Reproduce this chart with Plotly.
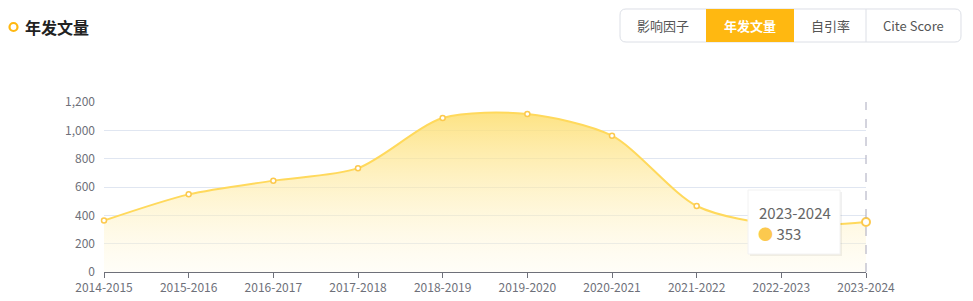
import plotly.graph_objects as go

categories = ["2014-2015", "2015-2016", "2016-2017", "2017-2018", "2018-2019",
              "2019-2020", "2020-2021", "2021-2022", "2022-2023", "2023-2024"]
counts = [363, 548, 645, 733, 1087, 1115, 962, 466, 330, 353]
y_ticks = [0, 200, 400, 600, 800, 1000, 1200]
buttons = ["影响因子", "年发文量", "自引率", "Cite Score"]
active_button = "年发文量"
hover_index = 9

W, H = 973, 301
L, R, T, B = 104, 107, 102, 29
PW, PH = W - L - R, H - T - B

def px(x):
    return (x - L) / PW

def py(y):
    return (H - B - y) / PH

FONT = "Noto Sans CJK SC, Noto Sans, sans-serif"
ORANGE = "#FFB811"

fig = go.Figure()
fig.add_trace(go.Scatter(
    x=categories, y=counts, mode="lines+markers",
    line=dict(color="#FFD95C", width=2, shape="spline", smoothing=0.8),
    marker=dict(symbol="circle", size=5, color="white",
                line=dict(color="#FCC94E", width=1.5)),
    fill="tozeroy",
    fillgradient=dict(type="vertical",
                      colorscale=[[0, "rgba(255,250,230,0.3)"], [1, "rgba(253,222,110,0.85)"]]),
    hoverinfo="skip", showlegend=False, cliponaxis=False,
))
# hovered point
fig.add_trace(go.Scatter(
    x=[categories[hover_index]], y=[counts[hover_index]], mode="markers",
    marker=dict(symbol="circle", size=8, color="white",
                line=dict(color="#FCC94E", width=2)),
    hoverinfo="skip", showlegend=False, cliponaxis=False,
))

shapes = []
annotations = []

# hover dashed line (at the hovered category, which is the right edge of the plot)
hx = hover_index / (len(categories) - 1)
shapes.append(dict(type="line", xref="paper", yref="paper", x0=hx, x1=hx,
                   y0=0, y1=1, line=dict(color="#A8A8BC", width=1, dash="dash"), layer="above"))

# tooltip
tx0, ty0, tx1, ty1 = 748, 190, 840, 254
shapes.append(dict(type="rect", xref="paper", yref="paper",
                   x0=px(tx0 + 2), x1=px(tx1 + 2), y0=py(ty1 + 2), y1=py(ty0 + 2),
                   fillcolor="rgba(0,0,0,0.06)", line=dict(width=0)))
shapes.append(dict(type="rect", xref="paper", yref="paper",
                   x0=px(tx0), x1=px(tx1), y0=py(ty1), y1=py(ty0),
                   fillcolor="white", line=dict(color="#F2F2F2", width=1)))
annotations.append(dict(xref="paper", yref="paper", x=px(757), y=py(212), xanchor="left",
                        yanchor="middle", showarrow=False, text=categories[hover_index],
                        font=dict(family=FONT, size=15, color="#666666")))
annotations.append(dict(xref="paper", yref="paper", x=px(756), y=py(233), xanchor="left",
                        yanchor="middle", showarrow=False,
                        text="<span style='color:#FCC94E'>●</span> " + str(counts[hover_index]),
                        font=dict(family=FONT, size=15, color="#666666")))

# title icon + title
shapes.append(dict(type="circle", xref="paper", yref="paper",
                   x0=px(9.5), x1=px(17.5), y0=py(31), y1=py(23),
                   line=dict(color=ORANGE, width=2.2), fillcolor="white"))
annotations.append(dict(xref="paper", yref="paper", x=px(23), y=py(27), xanchor="left",
                        yanchor="middle", showarrow=False, text="<b>年发文量</b>",
                        font=dict(family=FONT, size=16, color="#222222")))

# button group
bx = [620, 706, 794, 866, 961]
by0, by1 = 9, 42
r = 6
path = (f"M {bx[0]+r},{by0} L {bx[-1]-r},{by0} Q {bx[-1]},{by0} {bx[-1]},{by0+r} "
        f"L {bx[-1]},{by1-r} Q {bx[-1]},{by1} {bx[-1]-r},{by1} L {bx[0]+r},{by1} "
        f"Q {bx[0]},{by1} {bx[0]},{by1-r} L {bx[0]},{by0+r} Q {bx[0]},{by0} {bx[0]+r},{by0} Z")

def conv_path(p):
    tokens = p.split()
    out = []
    for t in tokens:
        if "," in t:
            a, b = t.split(",")
            out.append(f"{px(float(a)):.5f},{py(float(b)):.5f}")
        else:
            out.append(t)
    return " ".join(out)

shapes.append(dict(type="path", xref="paper", yref="paper", path=conv_path(path),
                   fillcolor="white", line=dict(color="#DCDFE6", width=1)))
for i, name in enumerate(buttons):
    a, b = bx[i], bx[i + 1]
    active = name == active_button
    if active:
        shapes.append(dict(type="rect", xref="paper", yref="paper",
                           x0=px(a), x1=px(b), y0=py(by1), y1=py(by0),
                           fillcolor=ORANGE, line=dict(width=0)))
    elif i > 0 and buttons[i - 1] != active_button:
        shapes.append(dict(type="line", xref="paper", yref="paper",
                           x0=px(a), x1=px(a), y0=py(by1), y1=py(by0),
                           line=dict(color="#DCDFE6", width=1)))
    annotations.append(dict(xref="paper", yref="paper", x=px((a + b) / 2), y=py((by0 + by1) / 2),
                            xanchor="center", yanchor="middle", showarrow=False,
                            text=f"<b>{name}</b>" if active else name,
                            font=dict(family=FONT, size=13,
                                      color="white" if active else "#555555")))

fig.update_layout(
    width=W, height=H,
    margin=dict(l=L, r=R, t=T, b=B, autoexpand=False),
    paper_bgcolor="white", plot_bgcolor="white",
    shapes=shapes, annotations=annotations,
    font=dict(family=FONT, size=12, color="#6E7079"),
    xaxis=dict(type="category", range=[0, len(categories) - 1], showgrid=False,
               showline=True, linecolor="#6E7079", linewidth=1,
               ticks="outside", ticklen=5, tickcolor="#6E7079", automargin=False,
               tickfont=dict(size=12, color="#6E7079"), zeroline=False, fixedrange=True),
    yaxis=dict(range=[0, 1200], tickvals=y_ticks, tickformat=",d", automargin=False,
               showgrid=True, gridcolor="#E0E6F1", gridwidth=1,
               showline=False, zeroline=False, ticks="", ticklabelstandoff=8,
               tickfont=dict(size=12, color="#6E7079")),
    hovermode=False,
)

fig.write_html("out.html")
